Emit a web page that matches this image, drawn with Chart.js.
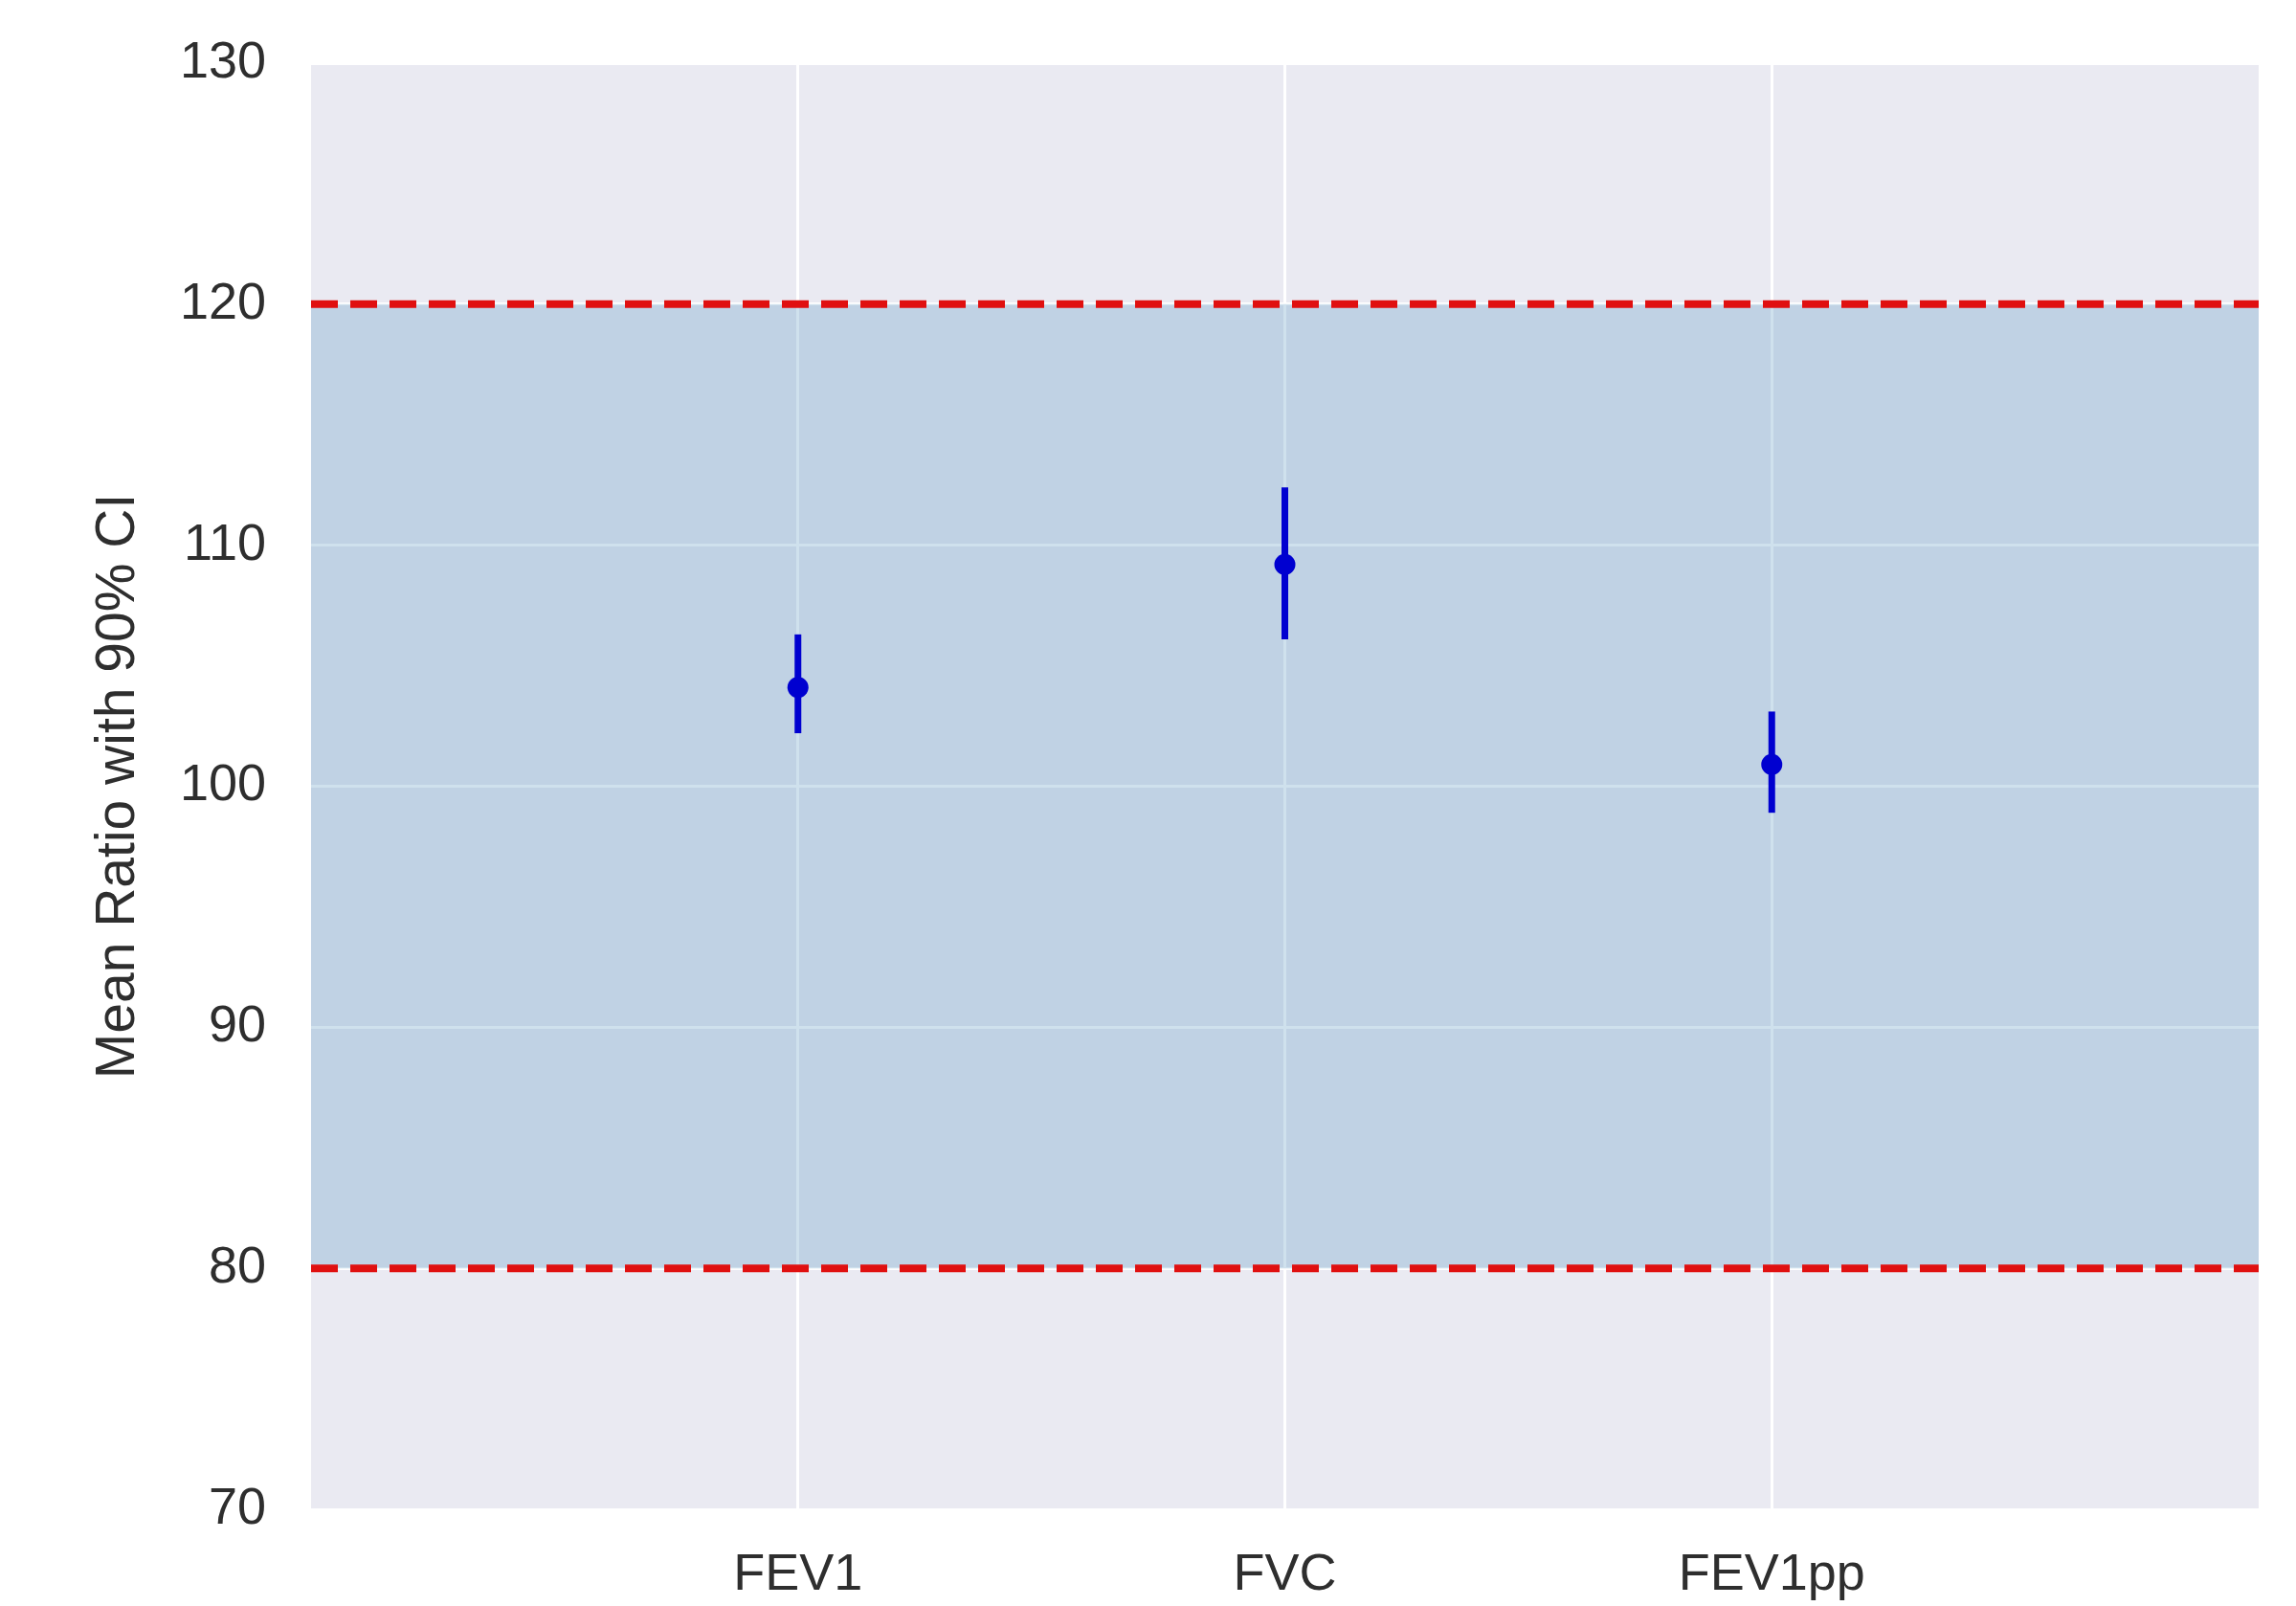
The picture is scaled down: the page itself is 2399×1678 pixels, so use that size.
<!DOCTYPE html>
<html>
<head>
<meta charset="utf-8">
<script src="https://cdn.jsdelivr.net/npm/chart.js@4.4.1/dist/chart.umd.min.js"></script>
<style>
  html, body { margin: 0; padding: 0; background: #ffffff; }
  #wrap { width: 2399px; height: 1678px; position: relative; }
</style>
</head>
<body>
<div id="wrap"><canvas id="myChart"></canvas></div>
<script>
// data
const categories = ["FEV1", "FVC", "FEV1pp"];
const means = [104.1, 109.2, 100.9];
const ciLower = [102.2, 106.1, 98.9];
const ciUpper = [106.3, 112.4, 103.1];
const limits = [80, 120];          // equivalence band
const yTicks = [70, 80, 90, 100, 110, 120, 130];

const FONT = '"Liberation Sans", Arial, sans-serif';
const TEXT = "#2e2e2e";
const BLUE = "#0000d0";
const RED = "#e01010";

const ctx = document.getElementById("myChart");

// plot background (seaborn darkgrid style)
const bgPlugin = {
    id: "plotBg",
    beforeDraw(chart) {
        const a = chart.chartArea;
        const c = chart.ctx;
        c.save();
        c.fillStyle = "#eaeaf2";
        c.fillRect(a.left, a.top, a.right - a.left, a.bottom - a.top);
        c.restore();
    }
};

const xMin = -1, xMax = categories.length;

let datasets = [];

// shaded band between the limits
datasets.push({
    type: "line",
    data: [{ x: xMin, y: limits[1] }, { x: xMax, y: limits[1] }],
    borderWidth: 0,
    borderColor: "rgba(0,0,0,0)",
    backgroundColor: "rgba(97, 154, 195, 0.3)",
    fill: { value: limits[0] },
    pointRadius: 0,
    order: 10
});

// red dashed limit lines
limits.forEach(v => {
    datasets.push({
        type: "line",
        data: [{ x: xMin, y: v }, { x: xMax, y: v }],
        borderColor: RED,
        borderWidth: 8,
        borderDash: [28, 13],
        borderCapStyle: "butt",
        pointRadius: 0,
        fill: false,
        order: 5
    });
});

// error bars
categories.forEach((c, i) => {
    datasets.push({
        type: "line",
        data: [{ x: i, y: ciLower[i] }, { x: i, y: ciUpper[i] }],
        borderColor: BLUE,
        borderWidth: 7,
        borderCapStyle: "butt",
        pointRadius: 0,
        fill: false,
        order: 2
    });
});

// mean markers
datasets.push({
    type: "scatter",
    data: means.map((m, i) => ({ x: i, y: m })),
    backgroundColor: BLUE,
    borderColor: BLUE,
    borderWidth: 0,
    pointRadius: 11,
    order: 1
});

new Chart(ctx, {
    type: "scatter",
    data: { datasets: datasets },
    options: {
        responsive: true,
        maintainAspectRatio: false,
        animation: false,
        layout: {
            padding: { left: 0, top: 66, right: 39, bottom: 0 }
        },
        plugins: {
            legend: { display: false },
            tooltip: { enabled: false }
        },
        scales: {
            x: {
                type: "linear",
                min: xMin,
                max: xMax,
                border: { display: false },
                grid: {
                    color: "#ffffff",
                    lineWidth: 3,
                    drawTicks: false
                },
                ticks: {
                    padding: 37,
                    color: TEXT,
                    font: { family: FONT, size: 54 },
                    callback: v => categories[v] || ""
                },
                afterBuildTicks: s => {
                    s.ticks = categories.map((c, i) => ({ value: i }));
                },
                afterFit: s => {
                    s.height = 101;
                    s.paddingLeft = 0;
                    s.paddingRight = 0;
                }
            },
            y: {
                min: yTicks[0],
                max: yTicks[yTicks.length - 1],
                border: { display: false },
                grid: {
                    color: "#ffffff",
                    lineWidth: 3,
                    drawTicks: false
                },
                ticks: {
                    stepSize: 10,
                    padding: 47,
                    color: TEXT,
                    font: { family: FONT, size: 54 }
                },
                afterBuildTicks: s => {
                    s.ticks = yTicks.map(v => ({ value: v }));
                },
                title: {
                    display: true,
                    text: "Mean Ratio with 90% CI",
                    color: TEXT,
                    font: { family: FONT, size: 57 },
                    padding: { top: 90, bottom: 0 }
                },
                afterFit: s => {
                    s.width = 325;
                    s.paddingTop = 0;
                    s.paddingBottom = 0;
                }
            }
        }
    },
    plugins: [bgPlugin]
});
</script>
</body>
</html>
